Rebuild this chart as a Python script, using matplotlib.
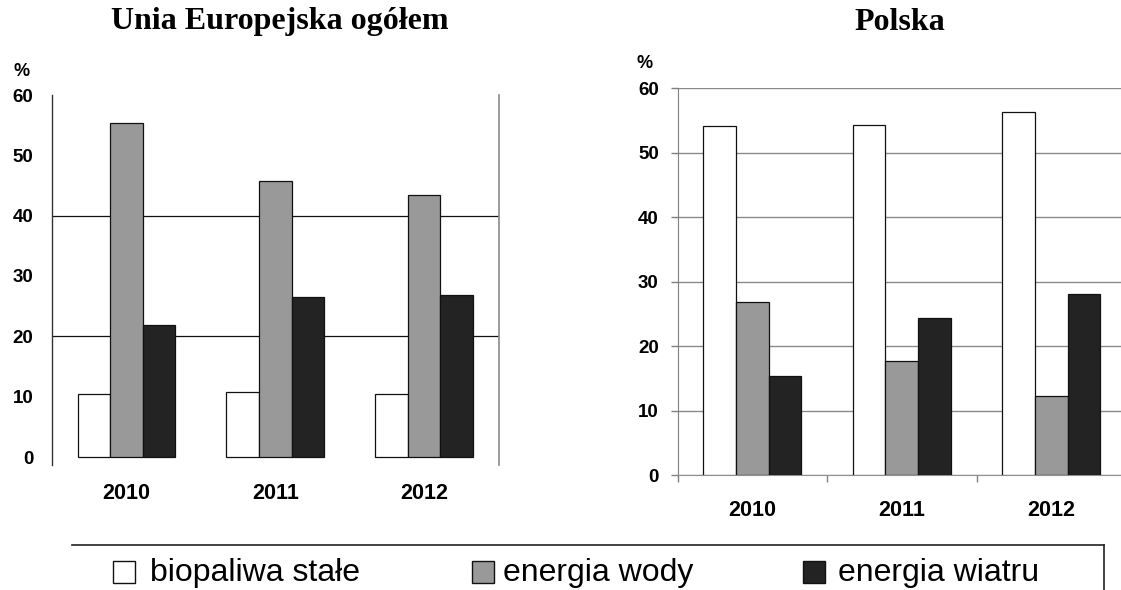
import matplotlib
matplotlib.use("Agg")
import matplotlib.pyplot as plt
from matplotlib.lines import Line2D
from matplotlib.patches import Rectangle
import numpy as np

# ---- data ----
years = ['2010', '2011', '2012']
series_labels = ['biopaliwa stałe', 'energia wody', 'energia wiatru']
series_colors = ['#ffffff', '#999999', '#232323']

eu_bio = [10.4, 10.8, 10.4]
eu_woda = [55.4, 45.8, 43.4]
eu_wiatr = [21.9, 26.6, 26.8]

pl_bio = [54.1, 54.3, 56.4]
pl_woda = [26.8, 17.7, 12.2]
pl_wiatr = [15.3, 24.3, 28.1]

yticks = [0, 10, 20, 30, 40, 50, 60]

W, H = 1121, 590
fig = plt.figure(figsize=(W / 100, H / 100), dpi=100)
plt.rcParams['font.family'] = ['Liberation Sans', 'DejaVu Sans']


def ax_px(x0, x1, ytop, ybot):
    return [x0 / W, 1 - ybot / H, (x1 - x0) / W, (ybot - ytop) / H]


bw = 0.219
x = np.arange(len(years))

# ---- left: EU ----
ax1 = fig.add_axes(ax_px(52, 498.5, 95, 465))
for i, (vals, col) in enumerate(zip([eu_bio, eu_woda, eu_wiatr], series_colors)):
    ax1.bar(x + (i - 1) * bw, vals, width=bw, color=col, edgecolor='#111111',
            linewidth=0.9, zorder=3)
ax1.set_xlim(-0.5, 2.5)
ax1.set_ylim(-60 * 8 / 362, 60)
ax1.set_yticks(yticks)
ax1.set_yticklabels([str(t) for t in yticks], fontsize=13.5, fontweight='bold')
ax1.set_xticks(x)
ax1.set_xticklabels(years, fontsize=15.5, fontweight='bold')
ax1.tick_params(axis='y', length=0, pad=13.5)
ax1.tick_params(axis='x', length=0, pad=13)
for s in ['top', 'bottom']:
    ax1.spines[s].set_visible(False)
ax1.spines['left'].set_color('#333333')
ax1.spines['left'].set_linewidth(1.0)
ax1.spines['right'].set_color('#8a8a8a')
ax1.spines['right'].set_linewidth(1.2)
for g in [20, 40]:
    ax1.axhline(g, color='#111111', linewidth=0.9, zorder=1)

# ---- right: Polska ----
ax2 = fig.add_axes(ax_px(677.5, 1126, 88.3, 475))
for i, (vals, col) in enumerate(zip([pl_bio, pl_woda, pl_wiatr], series_colors)):
    ax2.bar(x + (i - 1) * bw, vals, width=bw, color=col, edgecolor='#111111',
            linewidth=0.9, zorder=3)
ax2.set_xlim(-0.5, 2.5)
ax2.set_ylim(0, 60)
ax2.set_yticks(yticks)
ax2.set_yticklabels([str(t) for t in yticks], fontsize=13.5, fontweight='bold')
ax2.set_xticks(x)
ax2.set_xticklabels(years, fontsize=15.5, fontweight='bold')
ax2.set_xticks([-0.5, 0.5, 1.5, 2.5], minor=True)
ax2.tick_params(axis='y', length=5, width=1, color='#808080', pad=8.5)
ax2.tick_params(axis='x', which='major', length=0, pad=18)
ax2.tick_params(axis='x', which='minor', length=5, width=1, color='#808080')
for s in ['top', 'right']:
    ax2.spines[s].set_visible(False)
ax2.spines['left'].set_color('#808080')
ax2.spines['bottom'].set_color('#909090')
ax2.yaxis.grid(True, color='#8a8a8a', linewidth=1.0)
ax2.set_axisbelow(True)

# ---- titles and % labels ----
fig.text(280 / W, 1 - 22 / H, 'Unia Europejska ogółem', ha='center', va='center',
         fontsize=23, fontweight='bold', family=['Liberation Serif', 'DejaVu Serif'])
fig.text(900 / W, 1 - 22 / H, 'Polska', ha='center', va='center',
         fontsize=23, fontweight='bold', family=['Liberation Serif', 'DejaVu Serif'])
fig.text(22 / W, 1 - 72 / H, '%', ha='center', va='center', fontsize=13, fontweight='bold')
fig.text(645 / W, 1 - 63 / H, '%', ha='center', va='center', fontsize=13, fontweight='bold')

# ---- legend ----
fig.add_artist(Line2D([71.7 / W, 1104 / W], [1 - 545 / H, 1 - 545 / H],
                      transform=fig.transFigure, color='#222222', linewidth=1.2))
fig.add_artist(Line2D([1104 / W, 1104 / W], [1 - 545 / H, 0],
                      transform=fig.transFigure, color='#222222', linewidth=1.2))
sq_x = [113, 472, 803]
txt_x = [150, 503, 838]
for sx, tx, lab, col in zip(sq_x, txt_x, series_labels, series_colors):
    fig.add_artist(Rectangle((sx / W, 1 - 583 / H), 22 / W, 22 / H,
                             transform=fig.transFigure, facecolor=col,
                             edgecolor='#111111', linewidth=1.0))
    fig.text(tx / W, 1 - 573 / H, lab, ha='left', va='center', fontsize=23)

fig.savefig('out.png', dpi=100)
